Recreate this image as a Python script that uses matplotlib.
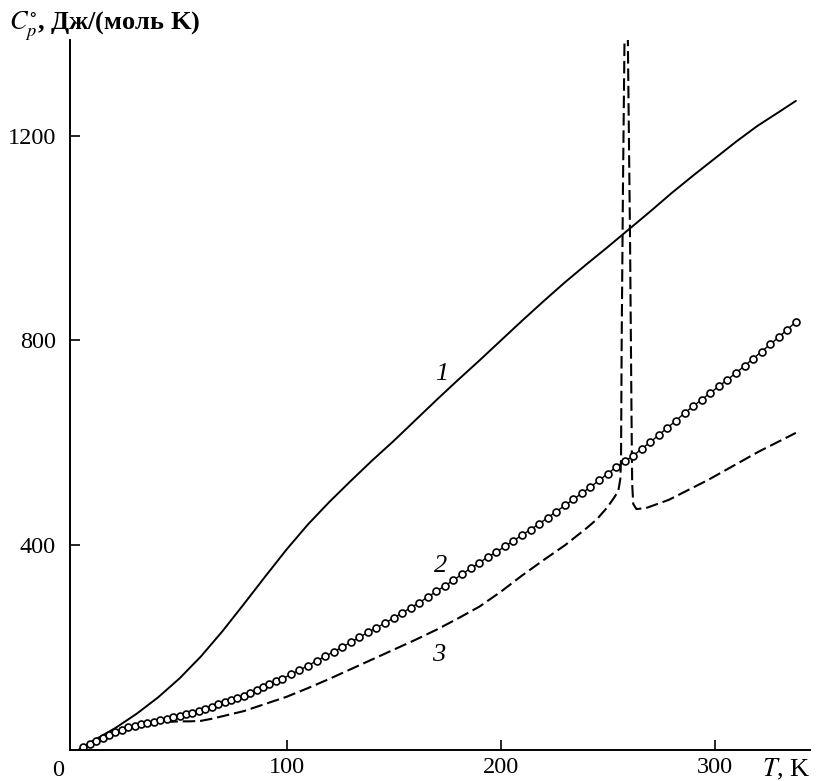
import matplotlib
matplotlib.use("Agg")
import matplotlib.pyplot as plt

plt.rcParams['font.family'] = ['Liberation Serif', 'DejaVu Serif']
plt.rcParams['mathtext.fontset'] = 'stix'
plt.rcParams['lines.scale_dashes'] = False

# Curve 1 (solid)
t1 = [3, 10, 20, 30, 40, 50, 60, 70, 80, 90, 100, 110, 120, 130, 140, 150, 160, 170,
      180, 190, 200, 210, 220, 230, 240, 250, 260, 270, 280, 290, 300, 310, 320, 330, 338]
cp1 = [0, 18, 42, 70, 102, 139, 182, 231, 284, 338, 391, 440, 484, 525, 565, 603, 643, 683,
       722, 760, 799, 838, 876, 913, 948, 982, 1017, 1052, 1088, 1122, 1155, 1188, 1219, 1246, 1268]

# Curve 2 (open circles)
t2 = [5, 8, 11, 14, 17, 20, 23, 26, 29, 32, 35, 38, 41, 44, 47, 50, 53, 56, 59, 62, 65, 68,
      71, 74, 77, 80, 83, 86, 89, 92, 95, 98,
      102, 106, 110, 114, 118, 122, 126, 130, 134, 138, 142, 146, 150, 154, 158, 162, 166,
      170, 174, 178, 182, 186, 190, 194, 198, 202, 206, 210, 214, 218, 222, 226, 230, 234,
      238, 242, 246, 250, 254, 258, 262, 266, 270, 274, 278, 282, 286, 290, 294, 298, 302,
      306, 310, 314, 318, 322, 326, 330, 334, 338]
cp2 = [4, 10, 17, 23, 29, 35, 39, 43, 46, 49, 51, 54, 57, 60, 63, 66, 69, 72, 76, 80, 84, 88,
       92, 96, 100, 105, 110, 116, 122, 128, 133, 138,
       147, 155, 164, 173, 182, 191, 200, 210, 219, 229, 238, 247, 257, 267, 277, 287, 298,
       309, 320, 331, 343, 354, 365, 376, 386, 397, 408, 419, 430, 441, 453, 465, 477, 489,
       501, 513, 526, 539, 552, 563, 574, 588, 601, 615, 629, 643, 658, 671, 684, 697, 710,
       723, 736, 750, 764, 778, 792, 806, 821, 836]

# Curve 3 (dashed)
t3 = [5, 10, 15, 20, 25, 30, 35, 40, 45, 50, 55, 60, 65, 70, 75, 80, 85, 90, 95, 100,
      110, 120, 130, 140, 150, 160, 170, 180, 190, 200, 210, 220, 230, 240, 245, 250, 253,
      255, 256, 256.3, 256.6, 257.2, 258.2, 258.75, 259.3, 259.5, 260.5, 261.2, 261.5, 262,
      263.5, 268, 278.6, 297, 320.5, 338]
cp3 = [4, 13, 25, 34, 41, 46, 50, 53, 54, 55, 55, 56, 60, 65, 70, 75, 82, 89, 96, 103,
       120, 138, 157, 176, 195, 214, 234, 256, 279, 308, 340, 370, 399, 432, 450, 474, 492,
       505, 530, 570, 800, 1100, 1500, 1600, 1500, 1380, 1000, 650, 520, 480,
       470, 472, 488, 527, 582, 619]

xticks = [100, 200, 300]
yticks = [400, 800, 1200]

fig = plt.figure(figsize=(8.16, 7.81), dpi=100)
ax = fig.add_axes([70/816, 1 - 750/781, 740/816, 710/781])

ax.plot(t1, cp1, color='black', lw=1.4, solid_capstyle='round')
ax.plot(t3, cp3, color='black', lw=1.5, dashes=(9, 3.5))
ax.plot(t2, cp2, color='black', lw=1.0, marker='o', markersize=5.0,
        markerfacecolor='white', markeredgecolor='black', markeredgewidth=1.2)

ax.set_xlim(-1.2, 344.6)
ax.set_ylim(-1, 1387)

for s in ['top', 'right']:
    ax.spines[s].set_visible(False)
for s in ['left', 'bottom']:
    ax.spines[s].set_linewidth(1.4)

ax.set_xticks(xticks)
ax.set_yticks(yticks)
ax.tick_params(direction='in', length=7, width=1.2, labelsize=17.5)
ax.tick_params(axis='x', pad=5)
ax.tick_params(axis='y', pad=10)

ax.text(172.7, 735, '1', fontsize=19, style='italic', ha='center', va='center')
ax.text(172.0, 358, '2', fontsize=19, style='italic', ha='center', va='center')
ax.text(171.0, 185, '3', fontsize=19, style='italic', ha='center', va='center')

fig.text(58/816, 1 - 770/781, '0', fontsize=17.5, ha='center', va='center')
fig.text(811/816, 1 - 769/781, r'$T$, K', fontsize=19, ha='right', va='center')
fig.text(9/816, 1 - 26/781, r'$C_p^{\circ}$, Дж/(моль K)', fontsize=19,
         fontweight='bold', ha='left', va='center')

fig.savefig('out.png', dpi=100)
